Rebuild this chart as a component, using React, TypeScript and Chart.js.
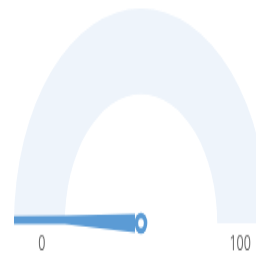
import React, { useEffect, useRef } from "react";
import { Chart, registerables } from "chart.js";

Chart.register(...registerables);

// Gauge data
const gaugeRange = [0, 100];
const trackValues = [100];
const needleValues = [0];
const tickLabels = ["0", "100"];

const TRACK_COLOR = "#eef4fb";
const NEEDLE_COLOR = "#5b9bd5";
const LABEL_COLOR = "#666666";
const STRETCH_Y = 257 / 152;

const gaugePlugin = {
  id: "gaugeNeedle",
  afterDatasetsDraw(chart: any) {
    const meta = chart.getDatasetMeta(0);
    const arc = meta.data[0];
    if (!arc) return;
    const { x: cx, y: cy, outerRadius: R, innerRadius: r } = arc.getProps(
      ["x", "y", "outerRadius", "innerRadius"],
      true
    );
    const ctx = chart.ctx;
    const [mn, mx] = gaugeRange;
    const frac = (needleValues[0] - mn) / (mx - mn);
    const theta = Math.PI + frac * Math.PI;
    const d = [Math.cos(theta), Math.sin(theta)];
    const n = [-Math.sin(theta), Math.cos(theta)];
    const pt = (u: number, v: number) => [cx + u * d[0] + v * n[0], cy + u * d[1] + v * n[1]];

    ctx.save();
    ctx.fillStyle = NEEDLE_COLOR;
    ctx.beginPath();
    const pts = [
      pt(R, 4.3),
      pt(r, 4.4),
      pt(6, 5.4),
      pt(6, -5.4),
      pt(r, -0.4),
      pt(R, -0.4),
    ];
    ctx.moveTo(pts[0][0], pts[0][1]);
    for (let i = 1; i < pts.length; i++) ctx.lineTo(pts[i][0], pts[i][1]);
    ctx.closePath();
    ctx.fill();

    // pivot
    ctx.beginPath();
    ctx.arc(cx, cy, 6.3, 0, Math.PI * 2);
    ctx.fill();
    ctx.fillStyle = "#ffffff";
    ctx.beginPath();
    ctx.arc(cx, cy, 2.8, 0, Math.PI * 2);
    ctx.fill();

    // labels
    ctx.fillStyle = LABEL_COLOR;
    ctx.font = '12.5px "Open Sans", sans-serif';
    ctx.textAlign = "center";
    ctx.textBaseline = "middle";
    const mid = (R + r) / 2 - 2.5;
    ctx.fillText(tickLabels[0], cx - mid, cy + 12.3);
    ctx.fillText(tickLabels[1], cx + mid, cy + 12.3);
    ctx.restore();
  },
};

export default function App() {
  const canvasRef = useRef<HTMLCanvasElement | null>(null);

  useEffect(() => {
    if (!canvasRef.current) return;
    const chart = new Chart(canvasRef.current, {
      type: "doughnut",
      data: {
        labels: ["track"],
        datasets: [
          {
            data: trackValues,
            backgroundColor: [TRACK_COLOR],
            hoverBackgroundColor: [TRACK_COLOR],
            borderWidth: 0,
          },
        ],
      },
      options: {
        animation: false,
        responsive: false,
        devicePixelRatio: 1,
        rotation: -90,
        circumference: 180,
        cutout: "60%",
        layout: { padding: { left: 14, right: 2, top: 5, bottom: 20 } },
        plugins: {
          legend: { display: false },
          tooltip: { enabled: false },
        },
        events: [],
      },
      plugins: [gaugePlugin],
    });
    return () => chart.destroy();
  }, []);

  return (
    <div
      style={{
        position: "fixed",
        left: 0,
        top: 0,
        width: 256,
        height: 257,
        overflow: "hidden",
        background: "#ffffff",
      }}
    >
      <div
        style={{
          width: 270,
          height: 152,
          transform: `scale(1, ${STRETCH_Y})`,
          transformOrigin: "0 0",
        }}
      >
        <canvas ref={canvasRef} width={270} height={152} style={{ width: 270, height: 152 }} />
      </div>
    </div>
  );
}
